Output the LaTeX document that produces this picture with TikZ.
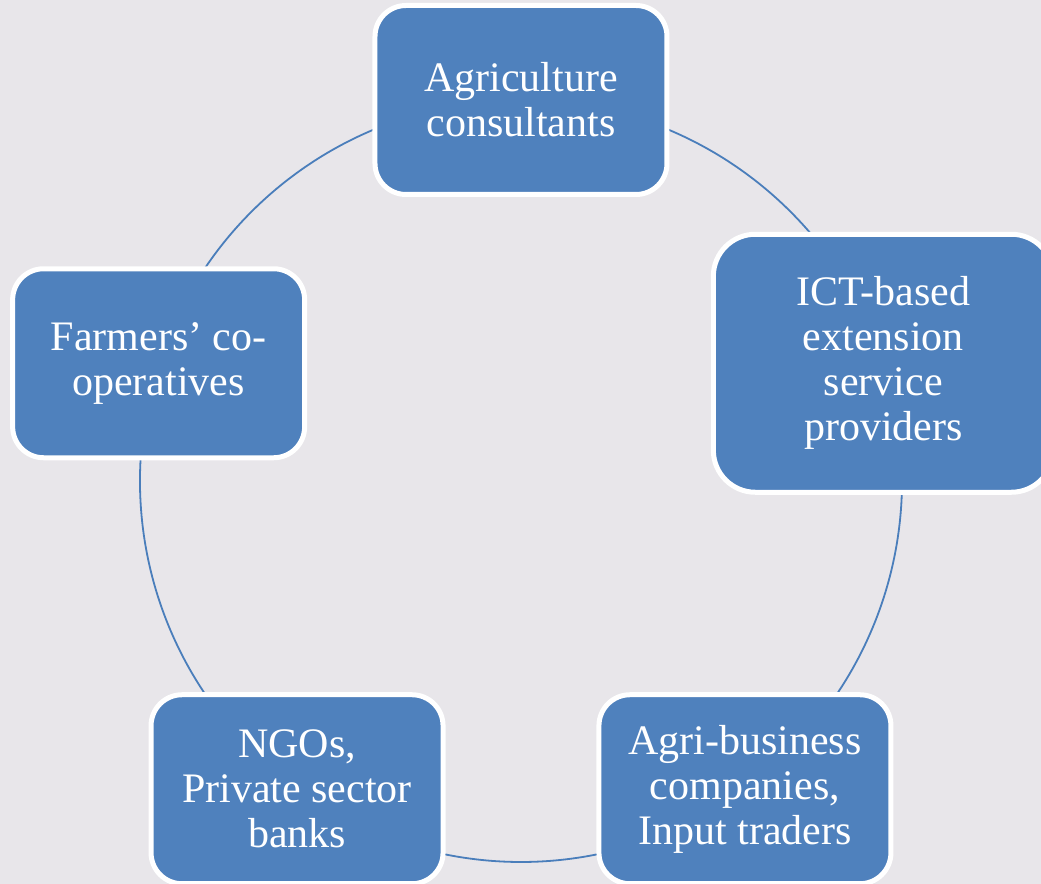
\documentclass[tikz,border=0pt]{standalone}
\usepackage{fontspec}
\setmainfont{Liberation Serif}
\usepackage{xcolor}
\usepackage{tikz}
\usetikzlibrary{backgrounds}

\definecolor{boxblue}{RGB}{79,129,189}
\definecolor{ringblue}{RGB}{74,126,187}
\definecolor{paper}{RGB}{232,230,234}

\tikzset{
  stage/.style={draw=white, line width=2.5pt, fill=boxblue, rounded corners=15.5pt,
    minimum width=146pt, minimum height=94.5pt, inner sep=0pt,
    text=white, align=center, font=\fontsize{21}{22.5}\selectfont},
  bigstage/.style={stage, minimum width=170pt, minimum height=129pt, rounded corners=21pt},
  ring/.style={draw=ringblue, line width=0.9pt}
}

\begin{document}
\begin{tikzpicture}

% Frame
\useasboundingbox (-260.5pt,-201.5pt) rectangle (260pt,240.5pt);
\begin{scope}[on background layer]
\fill[paper] (-260.5pt,-201.5pt) rectangle (260pt,240.5pt);
\end{scope}

% Stages round the cycle
\node[stage] (consult) at (90:190.5pt) {Agriculture\\consultants};
\node[bigstage] (ict) at (18:190.5pt) {ICT-based\\extension\\service\\providers};
\node[stage] (agri) at (-54:190.5pt) {Agri-business\\companies,\\Input traders};
\node[stage] (ngo) at (-126:190.5pt) {NGOs,\\Private sector\\banks};
\node[stage] (coop) at (162:190.5pt) {Farmers’ co-\\operatives};

% Ring
\begin{scope}[on background layer]
\draw[ring] (consult.center) arc[start angle=90, end angle=18, radius=190.5pt];
\draw[ring] (ict.center) arc[start angle=18, end angle=-54, radius=190.5pt];
\draw[ring] (agri.center) arc[start angle=-54, end angle=-126, radius=190.5pt];
\draw[ring] (ngo.center) arc[start angle=-126, end angle=-198, radius=190.5pt];
\draw[ring] (coop.center) arc[start angle=162, end angle=90, radius=190.5pt];
\end{scope}

\end{tikzpicture}
\end{document}
